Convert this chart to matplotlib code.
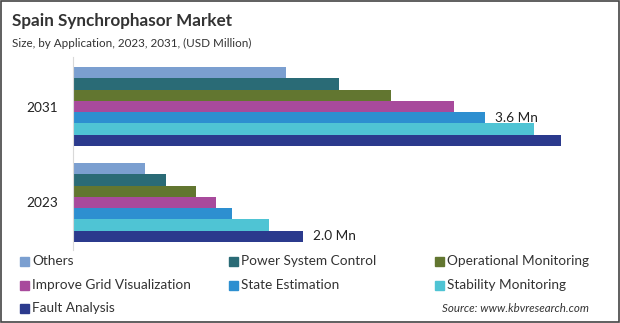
import matplotlib
matplotlib.use("Agg")
import matplotlib.pyplot as plt
from matplotlib.patches import Rectangle
import numpy as np

plt.rcParams['font.family'] = ['Lato', 'DejaVu Sans']

years = ['2023', '2031']
segments = ['Others', 'Power System Control', 'Operational Monitoring',
            'Improve Grid Visualization', 'State Estimation', 'Stability Monitoring',
            'Fault Analysis']
colors = ['#7b9fd0', '#2a6b76', '#627630', '#a84a9c', '#2d8fd0', '#4fc4d4', '#2b3a8d']

# values per segment: [2023, 2031]
others = [0.63, 1.85]
power_control = [0.81, 2.31]
operational = [1.07, 2.76]
grid_visual = [1.24, 3.31]
state_est = [1.38, 3.58]
stability = [1.70, 4.01]
fault = [2.00, 4.24]
series = [others, power_control, operational, grid_visual, state_est, stability, fault]

fig = plt.figure(figsize=(6.2, 3.23), dpi=100)
ax = fig.add_axes([73 / 620, 1 - 250 / 323, 527 / 620, 193 / 323])

h = 0.1177
y = np.arange(len(years))
for i, vals in enumerate(series):
    off = (3 - i) * h
    ax.barh(y + off, vals, height=h, color=colors[i], label=segments[i])

# value labels
ax.text(fault[0] + 0.09, 0 - 3 * h, '2.0 Mn', va='center', ha='left', fontsize=9.8, color='#222222')
ax.text(state_est[1] + 0.09, 1 - h, '3.6 Mn', va='center', ha='left', fontsize=9.8, color='#222222')

ax.set_xlim(0, 527 / 115.05)
ax.set_ylim(-0.495, 1.516)
ax.set_yticks(y)
ax.set_yticklabels(years, fontsize=9.8, color='#222222')
ax.set_xticks([])
for s in ['top', 'right', 'bottom']:
    ax.spines[s].set_visible(False)
ax.spines['left'].set_color('#d9d9d9')
ax.tick_params(axis='y', length=0, pad=11)

fig.text(12 / 620, 1 - 21 / 323, 'Spain Synchrophasor Market', fontsize=12.3, fontweight='bold',
         color='#333333', va='center', ha='left')
fig.text(12 / 620, 1 - 43 / 323, 'Size, by Application, 2023, 2031, (USD Million)', fontsize=8.4,
         color='#333333', va='center', ha='left')

# legend
col_x = [20, 229, 435]
row_y = [261, 285, 308]
for i, name in enumerate(segments):
    cx = col_x[i % 3]
    ry = row_y[i // 3]
    fig.patches.append(Rectangle((cx / 620, 1 - (ry + 4.5) / 323), 9 / 620, 9 / 323,
                                 transform=fig.transFigure, color=colors[i]))
    fig.text((cx + 12) / 620, 1 - ry / 323, name, fontsize=9.8, color='#333333',
             va='center', ha='left')

fig.text(589 / 620, 1 - 308 / 323, 'Source: www.kbvresearch.com', fontsize=8.3,
         style='italic', color='#333333', va='center', ha='right')

# outer border
fig.patches.append(Rectangle((0.0015, 0.003), 0.997, 0.994, transform=fig.transFigure,
                             fill=False, edgecolor='#444444', linewidth=1.2))

fig.savefig('out.png', dpi=100)
